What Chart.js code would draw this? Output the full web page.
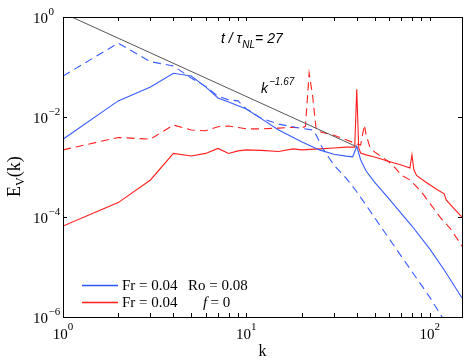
<!DOCTYPE html>
<html>
<head>
<meta charset="utf-8">
<script src="https://cdn.jsdelivr.net/npm/chart.js@4.4.0/dist/chart.umd.min.js"></script>
<style>
html, body { margin: 0; padding: 0; background: #fff; }
</style>
</head>
<body>
<canvas id="chart" width="469" height="363"></canvas>
<script>
// rotating + stratified run (blue), solid = t/tNL 27, dashed = earlier time
var rot_k = [1, 2, 3, 4, 5, 6, 7, 8, 10, 12, 15, 20, 25, 30, 35, 38, 40, 42, 45, 50, 60, 80, 100, 120, 150];
var rot_e = [3.6e-3, 2.1e-2, 4.0e-2, 7.5e-2, 6.6e-2, 4.0e-2, 2.4e-2, 2.0e-2, 1.45e-2, 9.4e-3, 5.5e-3, 3.2e-3, 2.2e-3, 1.8e-3, 1.65e-3, 1.6e-3, 2.6e-3, 1.4e-3, 8.3e-4, 5.0e-4, 2.3e-4, 6.6e-5, 2.3e-5, 8.7e-6, 2.4e-6];

var rot_dash_k = [1, 2, 3, 4, 5, 6, 7, 8, 9, 10, 12, 15, 20, 23, 24, 26, 30, 35, 40, 50, 60, 80, 100, 120];
var rot_dash_e = [0.066, 0.30, 0.128, 0.105, 0.06, 0.041, 0.026, 0.022, 0.021, 0.0145, 0.0095, 0.0072, 0.0059, 0.0055, 0.0044, 0.0024, 1.1e-3, 6.0e-4, 3.2e-4, 9.8e-5, 3.7e-5, 8.1e-6, 2.5e-6, 8.5e-7];

// purely stratified run (red)
var strat_k = [1, 2, 3, 4, 5, 6, 7, 8, 9, 10, 12, 15, 18, 20, 25, 30, 35, 39, 40, 41, 42, 45, 50, 60, 70, 78, 80, 82, 85, 95, 110, 120, 123, 135, 150];
var strat_e = [6.6e-5, 1.94e-4, 5.5e-4, 1.87e-3, 1.66e-3, 1.87e-3, 2.35e-3, 1.87e-3, 2.1e-3, 2.2e-3, 2.15e-3, 2.04e-3, 2.3e-3, 2.2e-3, 2.3e-3, 2.4e-3, 2.5e-3, 2.5e-3, 0.036, 2.4e-3, 1.9e-3, 1.75e-3, 1.58e-3, 1.29e-3, 1.1e-3, 9.5e-4, 1.75e-3, 8.7e-4, 6.7e-4, 5.0e-4, 3.5e-4, 2.9e-4, 2.2e-4, 1.5e-4, 1.0e-4];

var strat_dash_k = [1, 2, 3, 4, 5, 6, 7, 8, 10, 12, 15, 18, 20, 21, 22, 23, 24, 25, 30, 35, 40, 42, 44, 45, 47, 50, 60, 65, 70, 78, 90, 100, 115, 130, 150];
var strat_dash_e = [2.2e-3, 3.9e-3, 3.6e-3, 6.9e-3, 5.5e-3, 5.3e-3, 6.4e-3, 6.6e-3, 5.8e-3, 5.8e-3, 6.0e-3, 6.2e-3, 6.0e-3, 6.5e-3, 0.075, 0.026, 5.8e-3, 5.1e-3, 4.3e-3, 3.5e-3, 2.9e-3, 2.75e-3, 6.9e-3, 4.4e-3, 2.6e-3, 2.0e-3, 1.26e-3, 9.5e-4, 6.9e-4, 5.5e-4, 3.2e-4, 1.9e-4, 9.5e-5, 5.8e-5, 2.6e-5];

// k^-1.67 reference line, end points
var ref_k = [1.115, 40];
var ref_e = [1.0, 2.54e-3];

var x_ticks = [1, 10, 100];
var x_tick_exp = ['0', '1', '2'];
var x_minor = [2, 3, 4, 5, 6, 7, 8, 9, 20, 30, 40, 50, 60, 70, 80, 90];
var y_ticks = [1, 1e-2, 1e-4, 1e-6];
var y_tick_exp = ['0', '\u22122', '\u22124', '\u22126'];

var blue = '#3a5cff';
var red = '#ff1f1f';
var serif = '"Liberation Serif", "Times New Roman", serif';
var sans = '"Liberation Sans", Arial, sans-serif';

function pairs(k, e) {
    return k.map(function (v, i) { return { x: v, y: e[i] }; });
}

function ds(k, e, color, dash, width) {
    return {
        data: pairs(k, e),
        borderColor: color,
        borderWidth: width || 1.1,
        borderDash: dash || [],
        pointRadius: 0,
        tension: 0,
        fill: false,
        clip: 0
    };
}

// draws runs of [text, font, dy, extra gap] from x along baseline y
function runs(ctx, x, y, parts) {
    parts.forEach(function (p) {
        ctx.font = p[1];
        ctx.fillText(p[0], x, y + (p[2] || 0));
        x += ctx.measureText(p[0]).width + (p[3] || 0);
    });
}

var decor = {
    id: 'decor',
    afterDatasetsDraw: function (chart) {
        var ctx = chart.ctx;
        var a = chart.chartArea;
        var xs = chart.scales.x, ys = chart.scales.y;
        ctx.save();
        ctx.setLineDash([]);
        ctx.strokeStyle = '#000';
        ctx.lineWidth = 1;
        ctx.strokeRect(Math.round(a.left) + 0.5, Math.round(a.top) + 0.5,
            Math.round(a.right - a.left), Math.round(a.bottom - a.top));

        // ticks inside the box, top and bottom / left and right
        ctx.beginPath();
        x_ticks.concat(x_minor).forEach(function (v) {
            var px = Math.round(xs.getPixelForValue(v)) + 0.5;
            ctx.moveTo(px, a.bottom); ctx.lineTo(px, a.bottom - 4);
            ctx.moveTo(px, a.top); ctx.lineTo(px, a.top + 4);
        });
        y_ticks.forEach(function (v) {
            var py = Math.round(ys.getPixelForValue(v)) + 0.5;
            ctx.moveTo(a.left, py); ctx.lineTo(a.left + 4, py);
            ctx.moveTo(a.right, py); ctx.lineTo(a.right - 4, py);
        });
        ctx.stroke();

        ctx.fillStyle = '#000';
        ctx.textBaseline = 'alphabetic';
        // x tick labels
        x_ticks.forEach(function (v, i) {
            var px = xs.getPixelForValue(v);
            ctx.font = '15px ' + serif;
            var w1 = ctx.measureText('10').width;
            ctx.font = '11px ' + serif;
            var w2 = ctx.measureText(x_tick_exp[i]).width;
            var x0 = px - (w1 + w2) / 2;
            runs(ctx, x0, 339, [['10', '15px ' + serif], [x_tick_exp[i], '11px ' + serif, -9]]);
        });
        // y tick labels
        y_ticks.forEach(function (v, i) {
            var py = ys.getPixelForValue(v);
            ctx.font = '15px ' + serif;
            ctx.textAlign = 'right';
            ctx.fillText('10', 48, py + 6);
            ctx.textAlign = 'left';
            ctx.font = '11px ' + serif;
            ctx.fillText(y_tick_exp[i], 48.5, py - 2);
        });

        // axis titles
        ctx.font = '16px ' + serif;
        ctx.textAlign = 'center';
        ctx.fillText('k', (a.left + a.right) / 2, 356);
        ctx.textAlign = 'left';
        ctx.save();
        ctx.translate(20, 197);
        ctx.rotate(-Math.PI / 2);
        runs(ctx, 0, 0, [['E', '18px ' + serif], ['V', '12px ' + serif, 4], ['(k)', '18px ' + serif]]);
        ctx.restore();

        // annotations
        runs(ctx, 221, 43, [['t / \u03c4', 'italic 14px ' + sans, 0, 0.5], ['NL', 'italic 10px ' + sans, 4.5], ['= 27', 'italic 14px ' + sans]]);
        runs(ctx, 261, 93, [['k', 'italic 14px ' + sans, 0, 1], ['\u22121.67', 'italic 10px ' + sans, -8]]);

        // legend
        ctx.lineWidth = 1.3;
        ctx.strokeStyle = '#2f55ff';
        ctx.beginPath(); ctx.moveTo(82, 285.5); ctx.lineTo(118, 285.5); ctx.stroke();
        ctx.strokeStyle = red;
        ctx.beginPath(); ctx.moveTo(82, 302.5); ctx.lineTo(118, 302.5); ctx.stroke();
        ctx.font = '15px ' + serif;
        ctx.fillText('Fr = 0.04', 122, 290);
        ctx.fillText('Ro = 0.08', 188, 290);
        ctx.fillText('Fr = 0.04', 122, 307);
        ctx.font = 'italic 15px ' + serif;
        ctx.fillText('f', 203, 307);
        ctx.font = '15px ' + serif;
        ctx.fillText('= 0', 210.5, 307);
        ctx.restore();
    }
};

var myChart = new Chart(document.getElementById('chart'), {
    type: 'line',
    data: {
        datasets: [
            ds(ref_k, ref_e, '#555555', [], 1),
            ds(rot_dash_k, rot_dash_e, blue, [8, 5]),
            ds(strat_dash_k, strat_dash_e, red, [8, 5]),
            ds(rot_k, rot_e, blue),
            ds(strat_k, strat_e, red)
        ]
    },
    options: {
        responsive: false,
        animation: false,
        devicePixelRatio: 1,
        layout: { padding: { left: 63, top: 17, right: 7, bottom: 46 } },
        plugins: { legend: { display: false }, tooltip: { enabled: false } },
        scales: {
            x: { type: 'logarithmic', min: 1, max: 150, display: false },
            y: { type: 'logarithmic', min: 1e-6, max: 1, display: false }
        }
    },
    plugins: [decor]
});
</script>
</body>
</html>
